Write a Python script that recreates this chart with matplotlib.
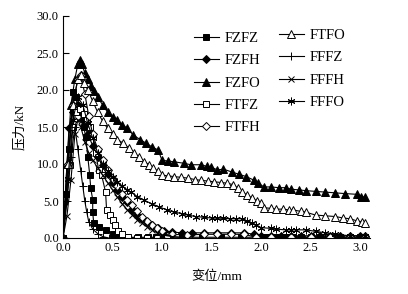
import matplotlib
matplotlib.use("Agg")
import matplotlib.pyplot as plt

plt.rcParams['font.family'] = ['Liberation Serif', 'Noto Sans CJK SC']

# ---- data (displacement mm, force kN) ----
fzfz_x = [0, 0.03, 0.06, 0.10, 0.13, 0.17, 0.21, 0.23, 0.25, 0.27, 0.28, 0.30, 0.30, 0.31, 0.36, 0.43,
          0.50, 0.56, 0.65, 0.76, 0.86, 0.94, 1.02, 1.2, 1.4, 1.6, 1.8, 1.95, 2.05, 2.15, 2.25, 2.32,
          2.4, 2.5, 2.6, 2.7, 2.8, 2.9, 3.0, 3.05]
fzfz_y = [0, 6, 12, 19.7, 19, 17, 15, 13.6, 11, 8.5, 6.7, 5.2, 3.5, 2.0, 1.5, 1.1,
          0.6, 0.3, 0.1, 0.1, 0.1, 0.1, 0.1, 0.1, 0.1, 0.1, 0.1, 0.1, 0.1, 0.1, 0.1, 0.1,
          0.1, 0.1, 0.1, 0.1, 0.1, 0.1, 0.1, 0.1]

fzfh_x = [0, 0.06, 0.10, 0.15, 0.20, 0.25, 0.30, 0.35, 0.40, 0.45, 0.50, 0.55, 0.60, 0.65, 0.70, 0.75,
          0.80, 0.85, 0.90, 0.96, 1.02, 1.10, 1.20, 1.30, 1.42, 1.56, 1.70, 1.83, 1.93, 2.0, 2.1, 2.2,
          2.3, 2.4, 2.5, 2.6, 2.7, 2.8, 2.9, 3.0, 3.05]
fzfh_y = [0, 14.8, 17, 18, 16, 14, 12.5, 11, 9.8, 8.6, 7.5, 6.5, 5.6, 4.8, 3.8, 3.1,
          2.6, 2.2, 1.7, 1.3, 1.0, 0.8, 0.7, 0.7, 0.7, 0.7, 0.7, 0.7, 0.5, 0.3, 0.3, 0.3,
          0.3, 0.3, 0.3, 0.3, 0.3, 0.3, 0.3, 0.3, 0.3]

fzfo_x = [0, 0.04, 0.08, 0.12, 0.15, 0.17, 0.19, 0.22, 0.25, 0.28, 0.31, 0.35, 0.40, 0.45, 0.50, 0.55,
          0.60, 0.65, 0.71, 0.78, 0.84, 0.90, 0.96, 1.00, 1.06, 1.12, 1.22, 1.29, 1.39, 1.45, 1.49, 1.56,
          1.62, 1.71, 1.78, 1.85, 1.93, 1.97, 2.03, 2.10, 2.18, 2.25, 2.30, 2.38, 2.45, 2.55, 2.65, 2.75,
          2.85, 2.97, 3.01, 3.05]
fzfo_y = [0, 10, 18, 21.5, 23.5, 24, 23.5, 22.3, 21.5, 20.6, 19.8, 19, 18, 17, 16.4, 15.9,
          15.3, 14.8, 13.9, 13.3, 12.8, 12.3, 11.9, 10.5, 10.4, 10.3, 10.1, 9.9, 9.9, 9.7, 9.6, 9.2,
          9.3, 8.9, 8.6, 8.3, 7.8, 7.4, 6.9, 6.9, 6.8, 6.8, 6.6, 6.5, 6.4, 6.3, 6.2, 6.1,
          6.0, 5.9, 5.6, 5.5]

ftfz_x = [0, 0.07, 0.10, 0.13, 0.17, 0.21, 0.24, 0.27, 0.30, 0.33, 0.36, 0.39, 0.43, 0.44, 0.47, 0.50,
          0.53, 0.56, 0.60, 0.66, 0.75, 0.85, 0.95, 1.05]
ftfz_y = [0, 9.8, 15, 17, 17.5, 16.8, 16, 15, 13.8, 11.5, 9.2, 8.5, 6.2, 3.8, 3.1, 2.4,
          1.7, 1.0, 0.5, 0.1, 0, 0, 0, 0]

ftfh_x = [0, 0.05, 0.10, 0.15, 0.18, 0.22, 0.26, 0.30, 0.35, 0.40, 0.45, 0.50, 0.55, 0.60, 0.65, 0.70,
          0.75, 0.80, 0.85, 0.90, 0.95, 1.00, 1.10, 1.25, 1.42, 1.56, 1.70, 1.83, 1.95, 2.1, 2.3, 2.5,
          2.7, 2.9, 3.05]
ftfh_y = [0, 10, 18, 21.5, 22, 19.5, 16.5, 14, 12, 10.5, 9.2, 8, 7, 6, 5.2, 4.4,
          3.6, 2.9, 2.3, 1.8, 1.3, 1.0, 0.5, 0.4, 0.5, 0.5, 0.5, 0.5, 0.1, 0.1, 0.1, 0.1,
          0.1, 0.1, 0.1]

ftfo_x = [0, 0.05, 0.10, 0.15, 0.18, 0.21, 0.25, 0.30, 0.35, 0.40, 0.45, 0.50, 0.55, 0.61, 0.67, 0.72,
          0.77, 0.82, 0.87, 0.91, 0.96, 1.00, 1.06, 1.12, 1.19, 1.26, 1.33, 1.39, 1.46, 1.52, 1.60, 1.66,
          1.72, 1.77, 1.81, 1.86, 1.91, 1.96, 2.00, 2.03, 2.10, 2.15, 2.22, 2.28, 2.32, 2.40, 2.45, 2.55,
          2.65, 2.75, 2.83, 2.90, 2.97, 3.02, 3.05]
ftfo_y = [0, 10, 18, 21.5, 22, 21, 20, 18.5, 17, 15.8, 14.8, 14, 13.3, 12.8, 12.1, 11.5,
          10.9, 10.3, 9.9, 9.5, 9.0, 8.5, 8.4, 8.3, 8.2, 8.1, 7.9, 7.8, 7.7, 7.6, 7.5, 7.4,
          7.2, 6.7, 6.2, 5.8, 5.4, 5.0, 4.7, 4.1, 4.0, 3.9, 3.9, 3.8, 3.8, 3.6, 3.5, 3.1,
          3.0, 2.9, 2.7, 2.6, 2.3, 2.2, 2.0]

fffz_x = [0, 0.04, 0.08, 0.12, 0.15, 0.18, 0.20, 0.22, 0.24, 0.26, 0.30, 0.35, 0.40, 0.46, 0.55]
fffz_y = [0, 5, 11, 15, 12, 9, 7, 5, 3.5, 2.2, 1.2, 0.6, 0.2, 0, 0]

fffh_x = [0, 0.04, 0.08, 0.12, 0.15, 0.18, 0.22, 0.26, 0.30, 0.35, 0.40, 0.45, 0.50, 0.55, 0.60, 0.65,
          0.70, 0.75, 0.80, 0.85, 0.90, 0.95, 1.00, 1.10, 1.20]
fffh_y = [0, 3, 7.8, 14, 16, 15, 13, 11.5, 10.5, 9.5, 8.5, 7.5, 6.5, 5.5, 4.6, 3.8,
          3.1, 2.5, 2.0, 1.5, 1.1, 0.7, 0.4, 0.2, 0.1]

fffo_x = [0, 0.05, 0.10, 0.15, 0.20, 0.25, 0.30, 0.35, 0.40, 0.45, 0.50, 0.55, 0.60, 0.65, 0.69, 0.75,
          0.82, 0.90, 0.97, 1.05, 1.12, 1.20, 1.26, 1.34, 1.42, 1.50, 1.56, 1.62, 1.69, 1.75, 1.81, 1.86,
          1.91, 1.95, 2.00, 2.10, 2.15, 2.25, 2.30, 2.35, 2.45, 2.55, 2.65, 2.75, 2.90, 3.05]
fffo_y = [0, 8, 16, 19, 18, 15.5, 13.5, 11.5, 10, 9, 8.2, 7.6, 7, 6.5, 6.2, 5.6,
          5.1, 4.6, 4.2, 3.8, 3.5, 3.3, 3.1, 2.9, 2.8, 2.7, 2.7, 2.65, 2.6, 2.6, 2.6, 2.3,
          2.0, 1.8, 1.4, 1.3, 1.2, 1.1, 1.1, 1.1, 1.1, 0.9, 0.7, 0.5, 0.3, 0.3]

xticks = [0.0, 0.5, 1.0, 1.5, 2.0, 2.5, 3.0]
yticks = [0.0, 5.0, 10.0, 15.0, 20.0, 25.0, 30.0]

series = [
    ("FZFZ", fzfz_x, fzfz_y, dict(marker='s', mfc='black', ms=4.2)),
    ("FZFH", fzfh_x, fzfh_y, dict(marker='D', mfc='black', ms=4)),
    ("FZFO", fzfo_x, fzfo_y, dict(marker='^', mfc='black', ms=5.5)),
    ("FTFZ", ftfz_x, ftfz_y, dict(marker='s', mfc='white', ms=4.2)),
    ("FTFH", ftfh_x, ftfh_y, dict(marker='D', mfc='white', ms=4)),
    ("FTFO", ftfo_x, ftfo_y, dict(marker='^', mfc='white', ms=5.5)),
    ("FFFZ", fffz_x, fffz_y, dict(marker='+', ms=6)),
    ("FFFH", fffh_x, fffh_y, dict(marker='x', ms=4.5)),
    ("FFFO", fffo_x, fffo_y, dict(marker=(6, 2, 0), ms=5.5)),
]

fig = plt.figure(figsize=(4.08, 2.94), dpi=100)
ax = fig.add_axes([63/408, 1-238/294, (370-63)/408, (238-16)/294])

handles = []
for name, xs, ys, st in series:
    ln, = ax.plot(xs, ys, color='black', lw=0.8, mec='black', mew=0.7, label=name, **st)
    handles.append(ln)

ax.set_xlim(0, 3.1)
ax.set_ylim(0, 30)
ax.set_xticks(xticks)
ax.set_yticks(yticks)
ax.set_xticklabels([f"{v:.1f}" for v in xticks])
ax.set_yticklabels([f"{v:.1f}" for v in yticks])
ax.spines['top'].set_visible(False)
ax.spines['right'].set_visible(False)
ax.tick_params(direction='in', length=4, width=0.8, labelsize=9, pad=3)
ax.tick_params(axis='x', length=0)
ax.set_xlabel("变位/mm", fontsize=9.5, labelpad=12)
ax.set_ylabel("压力/kN", fontsize=9.5, labelpad=8)

leg1 = fig.legend(handles=handles[:5], loc='upper left', bbox_to_anchor=(194/408, 1-32/294),
                  frameon=False, fontsize=10.5, handlelength=1.7, handletextpad=0.4,
                  labelspacing=0.62, borderpad=0, borderaxespad=0)
leg2 = fig.legend(handles=handles[5:], loc='upper left', bbox_to_anchor=(279/408, 1-29/294),
                  frameon=False, fontsize=10.5, handlelength=1.7, handletextpad=0.4,
                  labelspacing=0.62, borderpad=0, borderaxespad=0)

fig.savefig("out.png", dpi=100)
